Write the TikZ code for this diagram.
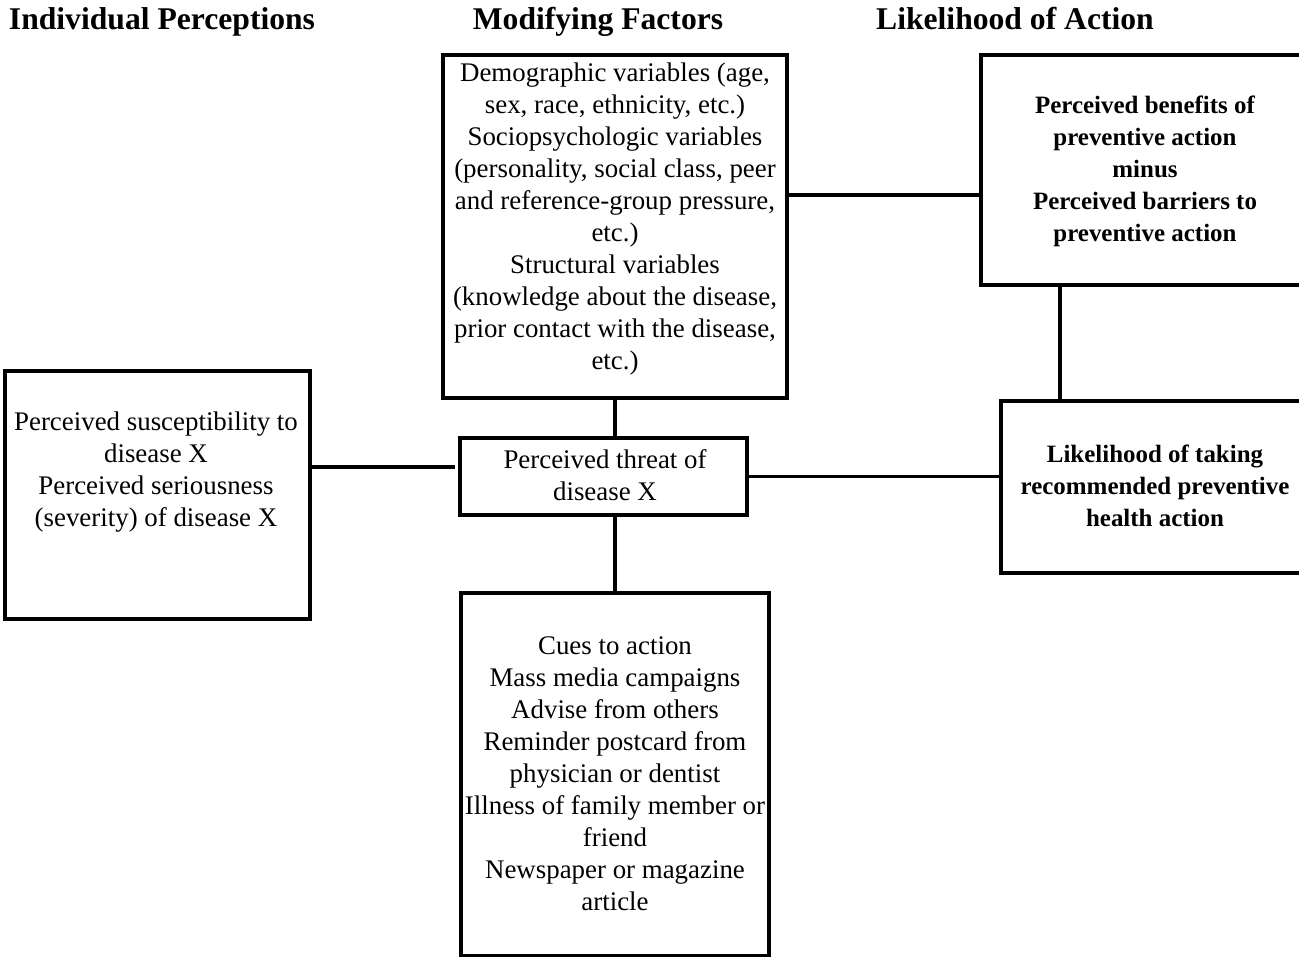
\documentclass[tikz,border=0pt]{standalone}
\usepackage{fontspec}
\setmainfont{Liberation Serif}
\usepackage{tikz}
\usetikzlibrary{positioning, calc}

\tikzset{
    box/.style={draw=black, line width=2pt, inner sep=0pt},
    txt/.style={align=center, inner sep=0pt, font=\fontsize{15.3}{18.2}\selectfont},
    btxt/.style={align=center, inner sep=0pt, font=\fontsize{14.2}{18.2}\selectfont\bfseries},
    head/.style={inner sep=0pt, anchor=base, font=\fontsize{18}{20}\selectfont\bfseries},
    link/.style={line width=2pt}
}

\begin{document}
\begin{tikzpicture}[x=0.02cm, y=-0.02cm]
        \useasboundingbox (0, 0) rectangle (1299, 957);
        \clip (0, 0) rectangle (1299, 957);

        % column headings
        \node[head] (hind) at (162, 29) {Individual Perceptions};
        \node[head] (hmod) at (598, 29) {Modifying Factors};
        \node[head] (hlik) at (1015, 29) {Likelihood of Action};

        % boxes
        \node[box, minimum width=6.1cm, minimum height=4.96cm] (susc) at (157.5, 495) {};
        \node[box, minimum width=6.88cm, minimum height=6.86cm] (mod) at (615, 226.5) {};
        \node[box, minimum width=5.74cm, minimum height=1.54cm] (threat) at (603.5, 476.5) {};
        \node[box, minimum width=6.16cm, minimum height=7.26cm] (cues) at (615, 774.5) {};
        \node[box, minimum width=6.56cm, minimum height=4.6cm] (benefit) at (1145, 170) {};
        \node[box, minimum width=6.16cm, minimum height=3.44cm] (likely) at (1155, 487) {};

        % texts
        \node[txt] (tsusc) at (156, 472) {Perceived susceptibility to\\disease X\\Perceived seriousness\\(severity) of disease X};
        \node[txt] (tmod) at (615, 219) {Demographic variables (age,\\sex, race, ethnicity, etc.)\\Sociopsychologic variables\\(personality, social class, peer\\and reference-group pressure,\\etc.)\\Structural variables\\(knowledge about the disease,\\prior contact with the disease,\\etc.)};
        \node[txt] (tthreat) at (605, 475) {Perceived threat of\\disease X};
        \node[txt] (tcues) at (615, 774) {Cues to action\\Mass media campaigns\\Advise from others\\Reminder postcard from\\physician or dentist\\Illness of family member or\\friend\\Newspaper or magazine\\article};
        \node[btxt] (tbenefit) at (1145, 171) {Perceived benefits of\\preventive action\\minus\\Perceived barriers to\\preventive action};
        \node[btxt] (tlikely) at (1155, 486) {Likelihood of taking\\recommended preventive\\health action};

        % connectors
        \coordinate (gapl) at (455, 467);
        \coordinate (rowb) at (0, 195);
        \coordinate (colr) at (1060, 0);
        \draw[link] (susc.east |- gapl) -- (gapl);
        \draw[link] (mod.south) -- (mod.south |- threat.north);
        \draw[link] (cues.north |- threat.south) -- (cues.north);
        \draw[link] (threat.east) -- (threat.east -| likely.west);
        \draw[link] (mod.east |- rowb) -- (benefit.west |- rowb);
        \draw[link] (colr |- benefit.south) -- (colr |- likely.north);

      \end{tikzpicture}
\end{document}
